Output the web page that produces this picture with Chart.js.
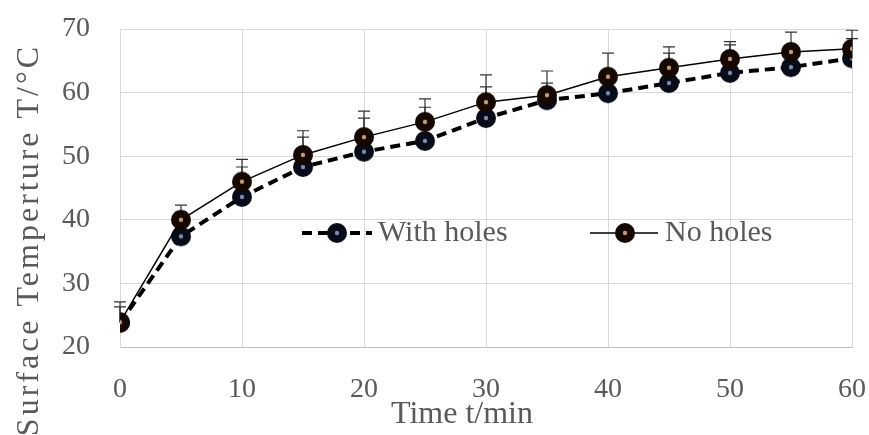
<!DOCTYPE html>
<html>
<head>
<meta charset="utf-8">
<script src="https://cdn.jsdelivr.net/npm/chart.js@4"></script>
<style>
  html, body { margin: 0; padding: 0; background: #fff; }
  #wrap { width: 869px; height: 435px; }
</style>
</head>
<body>
<div id="wrap"><canvas id="chart" width="869" height="435"></canvas></div>
<script>
// readings (surface temperature, deg C) every 5 minutes
const times = [0, 5, 10, 15, 20, 25, 30, 35, 40, 45, 50, 55, 60];
const withHoles = [23.8, 37.4, 43.6, 48.3, 50.7, 52.4, 56.0, 58.8, 59.9, 61.5, 63.1, 64.0, 65.4];
const noHoles = [23.9, 40.0, 46.0, 50.2, 53.0, 55.4, 58.5, 59.6, 62.5, 63.9, 65.3, 66.4, 66.9];
// upper error bars
const errWith = [2.5, 3.8, 4.7, 4.7, 5.3, 5.3, 4.9, 2.7, 2.5, 4.7, 4.4, 2.5, 3.1];
const errNo = [3.2, 2.3, 3.5, 3.8, 4.1, 3.6, 4.3, 3.8, 3.7, 3.3, 2.7, 3.1, 2.9];
const xTicks = [0, 10, 20, 30, 40, 50, 60];
const yTicks = [20, 30, 40, 50, 60, 70];

const FONT = "'Liberation Serif', 'DejaVu Serif', serif";
const TEXT = '#595959';

function makeMarker(body, dot) {
    const c = document.createElement('canvas');
    c.width = 22; c.height = 22;
    const g = c.getContext('2d');
    g.fillStyle = body;
    g.beginPath(); g.arc(11, 11, 10, 0, Math.PI * 2); g.fill();
    g.fillStyle = dot;
    g.beginPath(); g.arc(11, 11, 2.2, 0, Math.PI * 2); g.fill();
    return c;
}
const markWith = makeMarker('#080b18', '#7c8cae');
const markNo = makeMarker('#140800', '#c89a70');

const errorBars = {
    id: 'errorBars',
    beforeDatasetsDraw(chart) {
        const ctx = chart.ctx;
        const xs = chart.scales.x, ys = chart.scales.y;
        ctx.save();
        ctx.strokeStyle = '#333';
        ctx.lineWidth = 1.2;
        [[withHoles, errWith], [noHoles, errNo]].forEach(([vals, errs]) => {
            vals.forEach((v, i) => {
                const px = xs.getPixelForValue(times[i]);
                const y0 = ys.getPixelForValue(v);
                const y1 = ys.getPixelForValue(v + errs[i]);
                ctx.beginPath();
                ctx.moveTo(px, y0); ctx.lineTo(px, y1);
                ctx.moveTo(px - 6, y1); ctx.lineTo(px + 6, y1);
                ctx.stroke();
            });
        });
        ctx.restore();
    }
};

const extras = {
    id: 'extras',
    afterDraw(chart) {
        const ctx = chart.ctx;
        const ly = 233;
        ctx.save();
        // legend
        ctx.strokeStyle = '#000';
        ctx.lineWidth = 4;
        ctx.setLineDash([10, 6]);
        ctx.beginPath(); ctx.moveTo(302, ly); ctx.lineTo(372, ly); ctx.stroke();
        ctx.setLineDash([]);
        ctx.lineWidth = 1.5;
        ctx.beginPath(); ctx.moveTo(590, ly); ctx.lineTo(658, ly); ctx.stroke();
        ctx.drawImage(markWith, 337 - 11, ly - 11);
        ctx.drawImage(markNo, 625 - 11, ly - 11);
        ctx.fillStyle = TEXT;
        ctx.font = '30px ' + FONT;
        ctx.textAlign = 'left';
        ctx.textBaseline = 'middle';
        ctx.fillText('With holes', 378, ly);
        ctx.fillText('No holes', 665, ly);
        // axis titles
        ctx.font = '32px ' + FONT;
        ctx.textAlign = 'center';
        ctx.textBaseline = 'alphabetic';
        ctx.fillText('Time t/min', 462, 423);
        ctx.translate(38, 240);
        ctx.rotate(-Math.PI / 2);
        ctx.letterSpacing = '3px';
        ctx.fillText('Surface Temperture T/°C', 0, 0);
        ctx.restore();
    }
};

new Chart(document.getElementById('chart'), {
    type: 'line',
    data: {
        datasets: [
            {
                label: 'With holes',
                data: times.map((t, i) => ({ x: t, y: withHoles[i] })),
                borderColor: '#000',
                borderWidth: 4,
                borderDash: [10, 6],
                pointStyle: markWith,
                tension: 0,
                order: 1
            },
            {
                label: 'No holes',
                data: times.map((t, i) => ({ x: t, y: noHoles[i] })),
                borderColor: '#000',
                borderWidth: 1.5,
                pointStyle: markNo,
                tension: 0,
                order: 0
            }
        ]
    },
    options: {
        responsive: false,
        devicePixelRatio: 1,
        animation: false,
        layout: { padding: { left: 50, top: 29, right: 17, bottom: 0 } },
        plugins: { legend: { display: false }, tooltip: { enabled: false } },
        scales: {
            x: {
                type: 'linear',
                min: 0, max: 60,
                afterBuildTicks: (s) => { s.ticks = xTicks.map(v => ({ value: v })); },
                afterFit: (s) => { s.height = 88; s.paddingLeft = 0; s.paddingRight = 0; },
                grid: { color: '#d9d9d9', drawTicks: false },
                border: { color: '#bfbfbf' },
                ticks: { color: TEXT, padding: 26, font: { family: FONT, size: 28 } }
            },
            y: {
                min: 20, max: 70,
                afterBuildTicks: (s) => { s.ticks = yTicks.map(v => ({ value: v })); },
                afterFit: (s) => { s.width = 70; s.paddingTop = 0; s.paddingBottom = 0; },
                grid: { color: '#d9d9d9', drawTicks: false },
                border: { color: '#d9d9d9' },
                ticks: { color: TEXT, padding: 30, font: { family: FONT, size: 28 } }
            }
        }
    },
    plugins: [errorBars, extras]
});
</script>
</body>
</html>
